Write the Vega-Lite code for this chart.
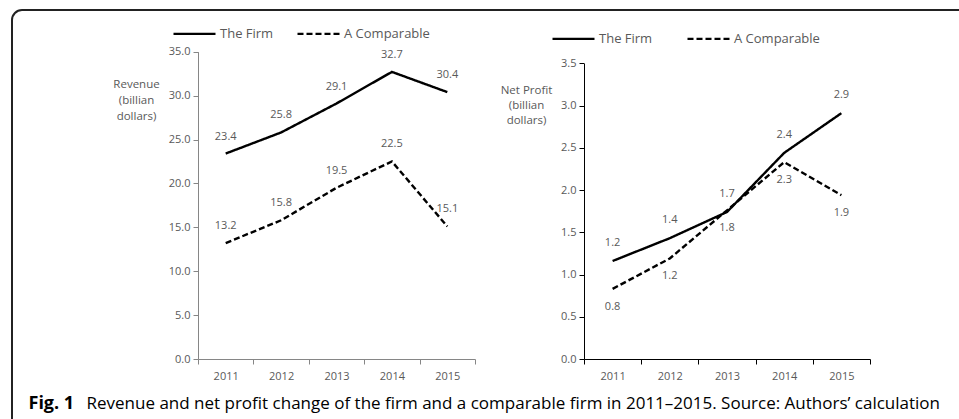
{
  "$schema": "https://vega.github.io/schema/vega-lite/v6.json",
  "width": 962,
  "height": 424,
  "autosize": {"type": "none"},
  "padding": {"left": 12, "top": 10, "right": -15, "bottom": -15},
  "background": "white",
  "config": {
    "view": {"stroke": "#222222", "strokeWidth": 2, "cornerRadius": 10},
    "font": "Open Sans",
    "axis": {
      "grid": false,
      "labelFont": "Open Sans",
      "labelFontSize": 11,
      "labelColor": "#595959",
      "tickSize": 5,
      "titleFont": "Open Sans",
      "titleFontWeight": "normal"
    },
    "legend": {
      "labelFont": "Open Sans",
      "labelFontSize": 13,
      "labelColor": "#595959",
      "symbolType": "stroke",
      "symbolStrokeColor": "black",
      "symbolStrokeWidth": 2.25,
      "symbolSize": 1764,
      "labelOffset": 3,
      "columnPadding": 23,
      "padding": 0,
      "direction": "horizontal",
      "orient": "none"
    }
  },
  "datasets": {
    "revenue": [
      {"year": "2011", "series": "The Firm", "value": 23.4},
      {"year": "2012", "series": "The Firm", "value": 25.8},
      {"year": "2013", "series": "The Firm", "value": 29.1},
      {"year": "2014", "series": "The Firm", "value": 32.7},
      {"year": "2015", "series": "The Firm", "value": 30.4},
      {"year": "2011", "series": "A Comparable", "value": 13.2},
      {"year": "2012", "series": "A Comparable", "value": 15.8},
      {"year": "2013", "series": "A Comparable", "value": 19.5},
      {"year": "2014", "series": "A Comparable", "value": 22.5},
      {"year": "2015", "series": "A Comparable", "value": 15.1}
    ],
    "profit": [
      {"year": "2011", "series": "The Firm", "value": 1.16},
      {"year": "2012", "series": "The Firm", "value": 1.43},
      {"year": "2013", "series": "The Firm", "value": 1.74},
      {"year": "2014", "series": "The Firm", "value": 2.44},
      {"year": "2015", "series": "The Firm", "value": 2.91},
      {"year": "2011", "series": "A Comparable", "value": 0.83},
      {"year": "2012", "series": "A Comparable", "value": 1.19},
      {"year": "2013", "series": "A Comparable", "value": 1.76},
      {"year": "2014", "series": "A Comparable", "value": 2.33},
      {"year": "2015", "series": "A Comparable", "value": 1.94}
    ]
  },
  "layer": [
    {
      "data": {"name": "revenue"},
      "encoding": {
        "x": {
          "field": "year",
          "type": "ordinal",
          "bandPosition": 0.5,
          "scale": {"type": "band", "range": [186, 463], "paddingInner": 0, "paddingOuter": 0},
          "axis": {
            "orient": "bottom",
            "offset": -75,
            "tickBand": "extent",
            "labelAngle": 0,
            "labelPadding": 6,
            "domainColor": "#868686",
            "tickColor": "#868686",
            "title": "Fig. 1",
            "titleFontWeight": "bold",
            "titleFontSize": 18,
            "titleColor": "black",
            "titleAlign": "left",
            "titleBaseline": "alphabetic",
            "titleAngle": 0,
            "titleX": 16,
            "titleY": 49
          }
        },
        "y": {
          "field": "value",
          "type": "quantitative",
          "scale": {"domain": [0, 35], "range": [349, 41.7], "nice": false, "zero": true},
          "axis": {
            "orient": "left",
            "offset": -186,
            "values": [0, 5, 10, 15, 20, 25, 30, 35],
            "format": ".1f",
            "labelPadding": 3,
            "domainColor": "#868686",
            "tickColor": "#868686",
            "title": ["Revenue", "(billian", "dollars)"],
            "titleAngle": 0,
            "titleAlign": "center",
            "titleBaseline": "alphabetic",
            "titleFontSize": 11.5,
            "titleColor": "#595959",
            "titleLineHeight": 16,
            "titleX": -62,
            "titleY": 77
          }
        }
      },
      "layer": [
        {
          "mark": {"type": "line", "color": "black", "strokeWidth": 2.4},
          "encoding": {
            "strokeDash": {
              "field": "series",
              "type": "nominal",
              "scale": {"domain": ["The Firm", "A Comparable"], "range": [[1, 0], [6, 3]]},
              "legend": {"title": null, "legendX": 160, "legendY": 1, "columnPadding": 19}
            }
          }
        },
        {
          "mark": {"type": "text", "dy": -17, "fontSize": 11, "color": "#595959", "font": "Open Sans"},
          "encoding": {"text": {"field": "value", "type": "quantitative", "format": ".1f"}}
        }
      ]
    },
    {
      "data": {"name": "profit"},
      "encoding": {
        "x": {
          "field": "year",
          "type": "ordinal",
          "bandPosition": 0.5,
          "scale": {"type": "band", "range": [572, 858], "paddingInner": 0, "paddingOuter": 0},
          "axis": {
            "orient": "bottom",
            "offset": -75,
            "tickBand": "extent",
            "labelAngle": 0,
            "labelPadding": 6,
            "domainColor": "black",
            "tickColor": "black",
            "title": "Revenue and net profit change of the firm and a comparable firm in 2011–2015. Source: Authors’ calculation",
            "titleFontSize": 17,
            "titleColor": "black",
            "titleAlign": "left",
            "titleBaseline": "alphabetic",
            "titleAngle": 0,
            "titleX": 74,
            "titleY": 49
          }
        },
        "y": {
          "field": "value",
          "type": "quantitative",
          "scale": {"domain": [0, 3.5], "range": [349, 53.3], "nice": false, "zero": true},
          "axis": {
            "orient": "left",
            "offset": -572,
            "values": [0, 0.5, 1, 1.5, 2, 2.5, 3, 3.5],
            "format": ".1f",
            "labelPadding": 3,
            "domainColor": "black",
            "tickColor": "black",
            "title": ["Net Profit", "(billian", "dollars)"],
            "titleAngle": 0,
            "titleAlign": "center",
            "titleBaseline": "alphabetic",
            "titleFontSize": 11.5,
            "titleColor": "#595959",
            "titleLineHeight": 15,
            "titleX": -58,
            "titleY": 83
          }
        }
      },
      "layer": [
        {
          "mark": {"type": "line", "color": "black", "strokeWidth": 2.4},
          "encoding": {
            "strokeDash": {
              "field": "series",
              "type": "nominal",
              "scale": {"domain": ["The Firm", "A Comparable"], "range": [[1, 0], [6, 3]]},
              "legend": {"title": null, "legendX": 539, "legendY": 6, "columnPadding": 30}
            }
          }
        },
        {
          "transform": [{"filter": "datum.series === 'The Firm'"}],
          "mark": {"type": "text", "dy": -18, "fontSize": 11, "color": "#595959", "font": "Open Sans"},
          "encoding": {"text": {"field": "value", "type": "quantitative", "format": ".1f"}}
        },
        {
          "transform": [{"filter": "datum.series === 'A Comparable'"}],
          "mark": {"type": "text", "dy": 18, "fontSize": 11, "color": "#595959", "font": "Open Sans"},
          "encoding": {"text": {"field": "value", "type": "quantitative", "format": ".1f"}}
        }
      ]
    }
  ],
  "resolve": {
    "scale": {"x": "independent", "y": "independent", "strokeDash": "independent"},
    "axis": {"x": "independent", "y": "independent"},
    "legend": {"strokeDash": "independent"}
  }
}
